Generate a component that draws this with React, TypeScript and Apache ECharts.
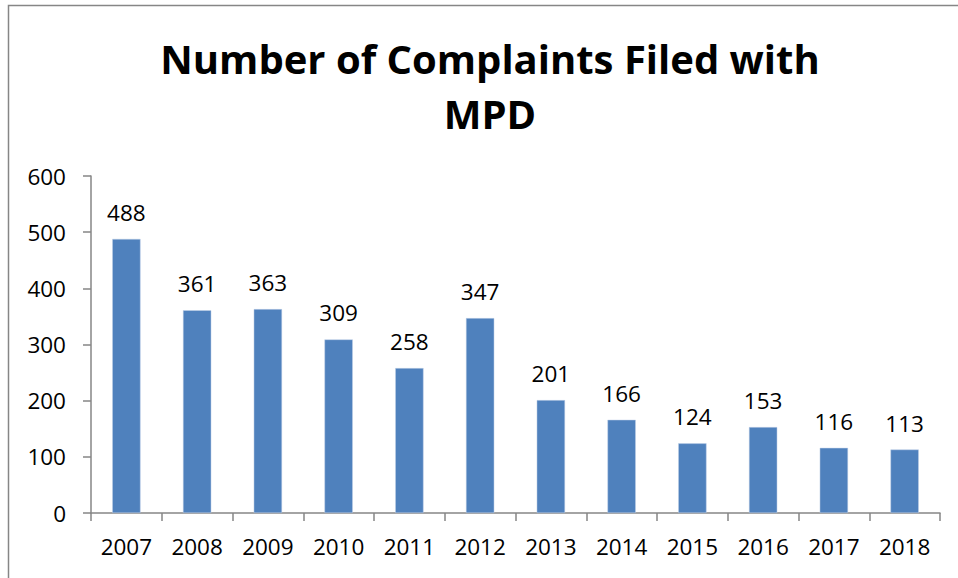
import React, { useEffect, useRef } from "react";
import * as echarts from "echarts";

const years = ["2007", "2008", "2009", "2010", "2011", "2012", "2013", "2014", "2015", "2016", "2017", "2018"];
const complaints = [488, 361, 363, 309, 258, 347, 201, 166, 124, 153, 116, 113];
const titleLines = ["Number of Complaints Filed with", "MPD"];

export default function App() {
  const ref = useRef<HTMLDivElement>(null);
  useEffect(() => {
    if (!ref.current) return;
    const chart = echarts.init(ref.current, undefined, { renderer: "svg" });
    const font = "'Open Sans', sans-serif";
    chart.setOption({
      animation: false,
      backgroundColor: "#ffffff",
      graphic: [
        {
          type: "rect",
          shape: { x: 8.5, y: 5.5, width: 1000, height: 1000 },
          style: { fill: "none", stroke: "#868686", lineWidth: 1.5 },
          silent: true,
        },
        {
          type: "text",
          x: 490,
          y: 58,
          style: {
            text: titleLines[0],
            font: `bold 40px ${font}`,
            fill: "#000000",
            textAlign: "center",
            textVerticalAlign: "middle",
          },
        },
        {
          type: "text",
          x: 490,
          y: 113,
          style: {
            text: titleLines[1],
            font: `bold 40px ${font}`,
            fill: "#000000",
            textAlign: "center",
            textVerticalAlign: "middle",
          },
        },
      ],
      grid: { left: 91, right: 18, top: 176, bottom: 65 },
      xAxis: {
        type: "category",
        data: years,
        axisLine: { show: true, lineStyle: { color: "#868686", width: 1.5 } },
        axisTick: { show: true, length: 8, alignWithLabel: false, lineStyle: { color: "#868686", width: 1.5 } },
        axisLabel: { color: "#000000", fontFamily: font, fontSize: 22.5, margin: 22 },
      },
      yAxis: {
        type: "value",
        min: 0,
        max: 600,
        interval: 100,
        splitLine: { show: false },
        axisLine: { show: true, lineStyle: { color: "#868686", width: 1.5 } },
        axisTick: { show: true, length: 8, lineStyle: { color: "#868686", width: 1.5 } },
        axisLabel: { color: "#000000", fontFamily: font, fontSize: 22.5, margin: 25 },
      },
      series: [
        {
          type: "bar",
          data: complaints,
          barWidth: "40%",
          itemStyle: { color: "#4F81BD", borderColor: "#c5d3e8", borderWidth: 0.5 },
          label: {
            show: true,
            position: "top",
            distance: 15,
            color: "#000000",
            fontFamily: font,
            fontSize: 22.5,
          },
        },
      ],
    });
    return () => chart.dispose();
  }, []);
  return <div ref={ref} style={{ position: "absolute", left: 0, top: 0, width: 958, height: 578 }} />;
}
